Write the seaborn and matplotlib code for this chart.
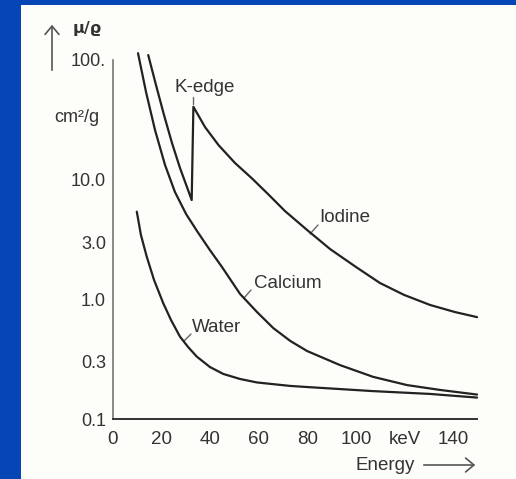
import matplotlib
matplotlib.use("Agg")
import matplotlib.pyplot as plt
import matplotlib.patches as mpatches
import seaborn as sns
import pandas as pd

# ---- data (energy in keV, mu/rho in cm^2/g) ----
iodine_kev = [14.5, 17.7, 21.0, 24.3, 27.6, 30.9, 32.4,
              33.1, 37.9, 43.4, 50.2, 57.1, 63.8, 70.8, 79.9, 89.4, 100.1, 109.9, 119.8, 130.5, 140.8, 149.9]
iodine_mu = [110, 61.8, 34.7, 20.2, 12.5, 8.20, 6.76,
             40.7, 27.5, 19.5, 13.8, 10.3, 7.59, 5.47, 3.80, 2.63, 1.86, 1.37, 1.09, 0.898, 0.783, 0.71]

calcium_kev = [10.3, 13.6, 17.3, 21.4, 25.5, 30.1, 34.6, 39.9, 44.9, 52.3, 59.3, 66.0, 73.0, 79.9,
               93.5, 107.1, 121.1, 134.6, 149.9]
calcium_mu = [114, 54.0, 26.0, 13.3, 7.89, 5.16, 3.72, 2.58, 1.86, 1.11, 0.783, 0.575, 0.449, 0.370,
              0.282, 0.225, 0.192, 0.175, 0.160]

water_kev = [9.8, 11.5, 13.9, 16.9, 20.7, 23.9, 27.6, 30.9, 34.5, 39.9, 45.4, 52.3, 59.3, 72.9, 79.9,
             107.1, 130.5, 149.9]
water_mu = [5.40, 3.45, 2.27, 1.45, 0.927, 0.671, 0.487, 0.400, 0.332, 0.272, 0.238, 0.216, 0.202,
            0.189, 0.185, 0.171, 0.162, 0.151]

x_ticks = [0, 20, 40, 60, 80, 100, 120, 140]
x_tick_labels = ["0", "20", "40", "60", "80", "100", "keV", "140"]
y_ticks = [0.1, 0.3, 1.0, 3.0, 10.0, 100.0]
y_tick_labels = ["0.1", "0.3", "1.0", "3.0", "10.0", "100."]

sns.set_style("white")
plt.rcParams["font.family"] = ["Liberation Sans", "DejaVu Sans"]

W, H = 516, 479
fig = plt.figure(figsize=(W / 100, H / 100), dpi=100)
fig.patch.set_facecolor("#0545B5")
# white panel
fig.patches.append(mpatches.Rectangle((21 / W, 0), 1 - 21 / W, 1 - 5 / H,
                                      transform=fig.transFigure, facecolor="#FDFDFA",
                                      edgecolor="none", zorder=-10))

ax = fig.add_axes([113 / W, (H - 419) / H, (477.3 - 113) / W, (419 - 60) / H])
ax.set_facecolor("none")
ax.set_zorder(5)

ink = "#222222"
frames = [
    pd.DataFrame({"Energy": iodine_kev, "mu": iodine_mu, "Material": "Iodine"}),
    pd.DataFrame({"Energy": calcium_kev, "mu": calcium_mu, "Material": "Calcium"}),
    pd.DataFrame({"Energy": water_kev, "mu": water_mu, "Material": "Water"}),
]
for df in frames:
    sns.lineplot(data=df, x="Energy", y="mu", ax=ax, color=ink, lw=1.6,
                 estimator=None, sort=False, legend=False)
for line in ax.lines:
    line.set_clip_on(False)
    line.set_solid_joinstyle("round")

ax.set_yscale("log")
ax.set_xlim(0, 150)
ax.set_ylim(0.1, 100)
ax.set_xticks(x_ticks)
ax.set_xticklabels(x_tick_labels)
ax.set_yticks(y_ticks)
ax.set_yticklabels(y_tick_labels)
ax.minorticks_off()
ax.set_xlabel("")
ax.set_ylabel("")
for s in ["top", "right"]:
    ax.spines[s].set_visible(False)
ax.spines["left"].set_color("#777777")
ax.spines["left"].set_linewidth(1.2)
ax.spines["bottom"].set_color("#333333")
ax.spines["bottom"].set_linewidth(1.4)
ax.tick_params(axis="y", direction="out", length=4, width=1, color="#555555",
               labelsize=13, labelcolor="#333333", pad=1)
ax.tick_params(axis="x", direction="in", length=3, width=1, color="#555555",
               labelsize=13.5, labelcolor="#333333", pad=9)

def fx(x):
    return x / W

def fy(y):
    return 1 - y / H

txt = dict(color="#333333", fontsize=13.5)
fig.text(fx(73), fy(28), "μ/ϱ", ha="left", va="center", fontsize=11.5, color="#333333",
         family=["DejaVu Sans"], fontweight="bold")
fig.text(fx(77), fy(118), "cm²/g", ha="center", va="center", color="#333333", fontsize=13)
fig.text(fx(205), fy(87), "K-edge", ha="center", va="center", **txt)
fig.text(fx(345), fy(218), "Iodine", ha="center", va="center", **txt)
fig.text(fx(288), fy(283), "Calcium", ha="center", va="center", **txt)
fig.text(fx(217), fy(327), "Water", ha="center", va="center", **txt)
fig.text(fx(385), fy(465), "Energy", ha="center", va="center", **txt)

# leader lines
for (x0, y0, x1, y1) in [(193, 104, 193, 97), (310, 234, 318, 225), (244, 298, 251, 290),
                         (184, 341, 191, 334)]:
    fig.add_artist(plt.Line2D([fx(x0), fx(x1)], [fy(y0), fy(y1)], transform=fig.transFigure,
                              color="#666666", lw=1))

# arrows
fig.add_artist(mpatches.FancyArrowPatch((fx(52), fy(73)), (fx(52), fy(22)),
                                        transform=fig.transFigure, arrowstyle="->,head_length=6,head_width=5",
                                        color="#555555", lw=1.2))
fig.add_artist(mpatches.FancyArrowPatch((fx(421), fy(465)), (fx(478), fy(465)),
                                        transform=fig.transFigure, arrowstyle="->,head_length=6,head_width=5",
                                        color="#555555", lw=1.2))

fig.savefig("out.png", dpi=100, facecolor=fig.get_facecolor())
